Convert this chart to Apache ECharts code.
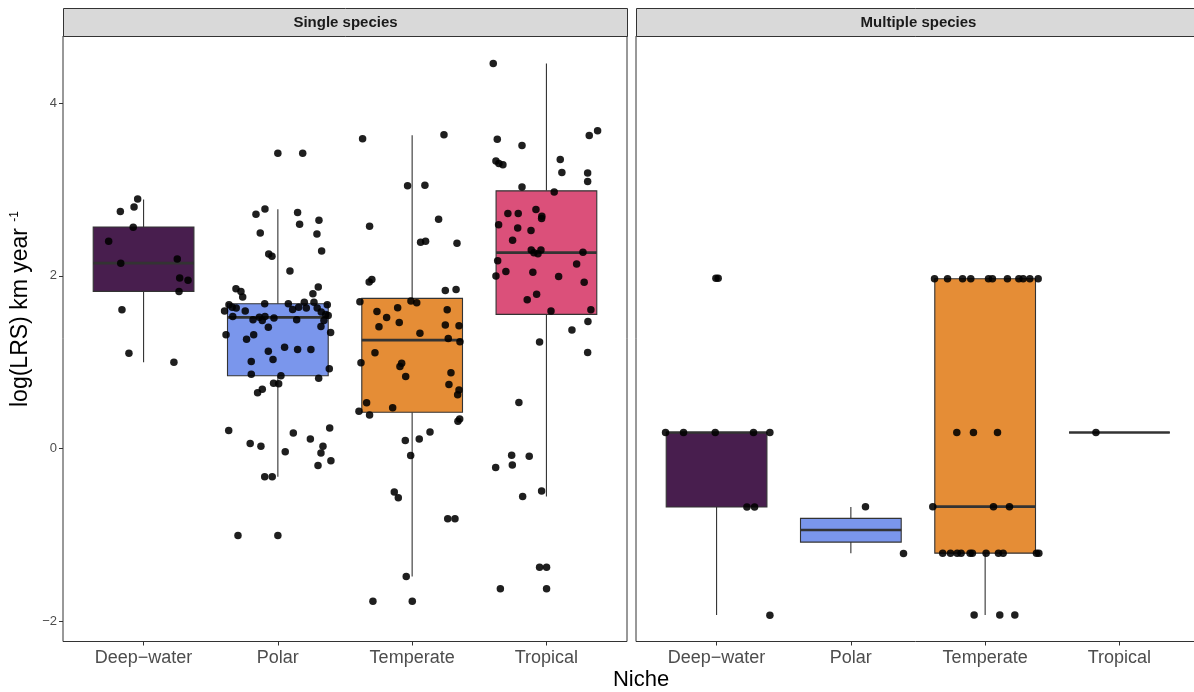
<!DOCTYPE html>
<html>
<head>
<meta charset="utf-8">
<script src="https://cdn.jsdelivr.net/npm/echarts@6/dist/echarts.min.js"></script>
<style>
html,body{margin:0;padding:0;background:#fff;}
#chart{width:1194px;height:692px;}
</style>
</head>
<body>
<div id="chart"></div>
<script>
// ---------- data ----------
const categories = ['Deep\u2212water', 'Polar', 'Temperate', 'Tropical'];
const panelTitles = ['Single species', 'Multiple species'];
const yTickValues = [-2, 0, 2, 4];
const yTickLabels = ['\u22122', '0', '2', '4'];
const xTitle = 'Niche';
const yTitle = 'log(LRS) km year {sup|-1}';

// box stats: [category position, lower whisker, Q1, median, Q3, upper whisker]
const singleBoxes = [
  [1, 1.00, 1.82, 2.148, 2.566, 2.885],
  [2, -0.325, 0.843, 1.519, 1.678, 2.771],
  [3, -1.48, 0.421, 1.256, 1.739, 3.629],
  [4, -0.553, 1.554, 2.269, 2.984, 4.46]
];
const multipleBoxes = [
  [1, -1.925, -0.676, 0.186, 0.186, 0.186],
  [2, -1.21, -1.082, -0.943, -0.808, -0.676],
  [3, -1.925, -1.21, -0.672, 1.967, 1.967],
  [4, 0.186, 0.186, 0.186, 0.186, 0.186]
];

// jittered observations: [jitter offset from category centre, value]
const singleDeepWater = [
  [-0.044, 2.891], [-0.071, 2.798], [-0.173, 2.744], [-0.077, 2.562], [-0.26, 2.40],
  [-0.17, 2.145], [0.251, 2.195], [0.269, 1.975], [0.331, 1.948], [0.264, 1.82],
  [-0.161, 1.608], [-0.109, 1.105], [0.226, 1.0]
];
const singlePolar = [
  [0.0, 3.42], [0.185, 3.42], [-0.096, 2.775], [-0.163, 2.713], [0.147, 2.733],
  [0.162, 2.597], [0.306, 2.643], [-0.131, 2.496], [0.291, 2.485], [0.326, 2.288],
  [-0.068, 2.253], [-0.044, 2.226], [0.09, 2.056], [-0.312, 1.851], [-0.275, 1.82],
  [-0.262, 1.754], [0.301, 1.87], [0.261, 1.793], [-0.364, 1.666], [-0.397, 1.592],
  [-0.34, 1.638], [-0.31, 1.627], [-0.243, 1.592], [-0.098, 1.678], [0.078, 1.678],
  [0.11, 1.612], [0.155, 1.638], [0.197, 1.696], [0.212, 1.627], [0.269, 1.696],
  [0.293, 1.627], [0.368, 1.666], [0.323, 1.581], [0.356, 1.554], [0.375, 1.542],
  [0.343, 1.484], [-0.336, 1.53], [-0.185, 1.492], [-0.138, 1.522], [-0.116, 1.484],
  [-0.096, 1.53], [-0.029, 1.511], [0.14, 1.492], [-0.071, 1.406], [0.321, 1.414],
  [0.393, 1.345], [-0.386, 1.318], [-0.18, 1.318], [-0.233, 1.267], [0.05, 1.175],
  [0.147, 1.148], [0.246, 1.148], [-0.071, 1.128], [-0.036, 1.032], [-0.198, 1.009],
  [0.383, 0.924], [-0.198, 0.862], [0.023, 0.843], [0.304, 0.815], [-0.032, 0.757],
  [0.006, 0.75], [-0.116, 0.688], [-0.151, 0.646], [-0.366, 0.209], [0.115, 0.182],
  [0.242, 0.112], [0.386, 0.24], [-0.206, 0.058], [-0.126, 0.027], [0.055, -0.035],
  [0.336, 0.027], [0.321, -0.05], [0.395, -0.139], [0.299, -0.194], [-0.098, -0.325],
  [-0.042, -0.325], [-0.297, -1.005], [0.0, -1.005]
];
const singleTemperate = [
  [-0.369, 3.587], [0.237, 3.633], [-0.034, 3.042], [0.095, 3.049], [-0.317, 2.574],
  [0.197, 2.655], [0.063, 2.388], [0.1, 2.40], [0.334, 2.377], [-0.32, 1.928],
  [-0.30, 1.959], [0.247, 1.832], [0.327, 1.843], [-0.389, 1.701], [-0.009, 1.708],
  [0.034, 1.689], [-0.262, 1.588], [-0.108, 1.631], [0.261, 1.608], [-0.19, 1.519],
  [-0.096, 1.461], [-0.247, 1.411], [0.247, 1.43], [0.349, 1.422], [0.058, 1.337],
  [0.269, 1.275], [0.356, 1.237], [-0.277, 1.109], [-0.381, 0.994], [-0.078, 0.989],
  [-0.091, 0.951], [-0.048, 0.835], [0.289, 0.877], [0.274, 0.742], [0.349, 0.68],
  [0.339, 0.623], [-0.339, 0.53], [-0.145, 0.472], [-0.396, 0.433], [-0.317, 0.39],
  [0.354, 0.344], [0.341, 0.317], [0.133, 0.193], [-0.051, 0.093], [0.053, 0.112],
  [-0.011, -0.081], [-0.133, -0.502], [-0.103, -0.568], [0.265, -0.812], [0.319, -0.812],
  [-0.044, -1.48], [-0.292, -1.766], [0.001, -1.766]
];
const singleTropical = [
  [-0.396, 4.46], [-0.366, 3.583], [-0.182, 3.51], [0.319, 3.626], [0.381, 3.679],
  [-0.376, 3.331], [-0.354, 3.301], [-0.324, 3.285], [0.103, 3.347], [0.115, 3.196],
  [0.307, 3.192], [0.307, 3.092], [-0.182, 3.03], [0.058, 2.972], [-0.287, 2.721],
  [-0.21, 2.721], [-0.078, 2.767], [-0.034, 2.69], [-0.036, 2.663], [-0.356, 2.593],
  [-0.214, 2.554], [-0.115, 2.524], [-0.252, 2.412], [-0.113, 2.30], [-0.093, 2.269],
  [-0.063, 2.257], [-0.041, 2.30], [0.272, 2.272], [-0.363, 2.176], [-0.302, 2.052],
  [-0.101, 2.041], [0.225, 2.137], [-0.376, 1.998], [0.091, 1.994], [0.281, 1.925],
  [-0.143, 1.724], [-0.073, 1.786], [0.034, 1.592], [0.331, 1.608], [0.309, 1.472],
  [0.19, 1.372], [-0.051, 1.233], [0.307, 1.113], [-0.205, 0.533], [-0.259, -0.077],
  [-0.128, -0.089], [-0.378, -0.22], [-0.254, -0.189], [-0.177, -0.553], [-0.036, -0.49],
  [-0.051, -1.372], [0.001, -1.372], [-0.343, -1.623], [0.001, -1.623]
];
const multipleDeepWater = [
  [-0.005, 1.971], [0.012, 1.971], [-0.38, 0.186], [-0.246, 0.186], [-0.01, 0.186],
  [0.275, 0.186], [0.397, 0.186], [0.226, -0.676], [0.283, -0.676], [0.397, -1.93]
];
const multiplePolar = [[0.109, -0.673], [0.392, -1.214]];
const multipleTemperate = [
  [-0.377, 1.967], [-0.28, 1.967], [-0.168, 1.967], [-0.107, 1.967], [0.025, 1.967],
  [0.054, 1.967], [0.166, 1.967], [0.251, 1.967], [0.283, 1.967], [0.333, 1.967],
  [0.395, 1.967],
  [-0.211, 0.186], [-0.087, 0.186], [0.092, 0.186],
  [-0.39, -0.672], [0.062, -0.672], [0.181, -0.672],
  [-0.316, -1.21], [-0.258, -1.21], [-0.208, -1.21], [-0.179, -1.21], [-0.112, -1.21],
  [-0.095, -1.21], [0.007, -1.21], [0.099, -1.21], [0.134, -1.21], [0.382, -1.21],
  [0.40, -1.21],
  [-0.082, -1.925], [0.109, -1.925], [0.221, -1.925]
];
const multipleTropical = [[-0.175, 0.186]];

// ---------- styling ----------
const nicheColors = ['#481E4E', '#7A96EC', '#E58D36', '#DB507A'];
const inkColor = '#333333';
const tickLabelColor = '#4d4d4d';
const fontFamily = '"Liberation Sans", Arial, Helvetica, sans-serif';

function toPoints(groups) {
  const out = [];
  groups.forEach((g, i) => g.forEach(p => out.push([i + 1 + p[0], p[1]])));
  return out;
}
const singlePoints = toPoints([singleDeepWater, singlePolar, singleTemperate, singleTropical]);
const multiplePoints = toPoints([multipleDeepWater, multiplePolar, multipleTemperate, multipleTropical]);

const halfBox = 0.375;
function renderBox(params, api) {
  const x = api.value(0);
  const lo = api.value(1), q1 = api.value(2), med = api.value(3), q3 = api.value(4), hi = api.value(5);
  const tl = api.coord([x - halfBox, q3]);
  const br = api.coord([x + halfBox, q1]);
  const cHi = api.coord([x, hi]), cQ3 = api.coord([x, q3]);
  const cQ1 = api.coord([x, q1]), cLo = api.coord([x, lo]);
  const mL = api.coord([x - halfBox, med]), mR = api.coord([x + halfBox, med]);
  const fill = nicheColors[Math.round(x) - 1];
  return {
    type: 'group',
    children: [
      { type: 'line', shape: { x1: cHi[0], y1: cHi[1], x2: cQ3[0], y2: cQ3[1] }, style: { stroke: inkColor, lineWidth: 1.1 } },
      { type: 'line', shape: { x1: cLo[0], y1: cLo[1], x2: cQ1[0], y2: cQ1[1] }, style: { stroke: inkColor, lineWidth: 1.1 } },
      { type: 'rect', shape: { x: tl[0], y: tl[1], width: br[0] - tl[0], height: br[1] - tl[1] }, style: { fill: fill, stroke: inkColor, lineWidth: 1.1 } },
      { type: 'line', shape: { x1: mL[0], y1: mL[1], x2: mR[0], y2: mR[1] }, style: { stroke: inkColor, lineWidth: 2.6 } }
    ]
  };
}

const gridTop = 36, gridHeight = 605.5, gridWidth = 564;
const gridLefts = [63, 636];

function makeXAxis(gi) {
  return {
    type: 'value', gridIndex: gi, min: 0.4, max: 4.6,
    splitLine: { show: false },
    axisLine: { show: false, onZero: false },
    axisTick: { show: true, length: 4, customValues: [1, 2, 3, 4], lineStyle: { color: inkColor, width: 1 } },
    axisLabel: {
      show: true, customValues: [1, 2, 3, 4], margin: 8,
      formatter: v => categories[Math.round(v) - 1],
      color: tickLabelColor, fontSize: 18, fontFamily: fontFamily
    }
  };
}
function makeYAxis(gi) {
  return {
    type: 'value', gridIndex: gi, min: -2.233, max: 4.777,
    splitLine: { show: false },
    axisLine: { show: false, onZero: false },
    axisTick: { show: gi === 0, length: 4, customValues: yTickValues, lineStyle: { color: inkColor, width: 1 } },
    axisLabel: {
      show: gi === 0, customValues: yTickValues, margin: 6,
      formatter: v => yTickLabels[yTickValues.indexOf(Math.round(v))],
      color: tickLabelColor, fontSize: 13, fontFamily: fontFamily
    }
  };
}

const chart = echarts.init(document.getElementById('chart'), null, { renderer: 'canvas' });
const option = {
  animation: false,
  backgroundColor: '#ffffff',
  grid: gridLefts.map(l => ({
    left: l, top: gridTop, width: gridWidth, height: gridHeight,
    containLabel: false, outerBoundsMode: 'none',
    show: true, borderColor: inkColor, borderWidth: 1, backgroundColor: '#ffffff'
  })),
  xAxis: [makeXAxis(0), makeXAxis(1)],
  yAxis: [makeYAxis(0), makeYAxis(1)],
  series: [
    { type: 'custom', xAxisIndex: 0, yAxisIndex: 0, renderItem: renderBox, data: singleBoxes, encode: { x: 0, y: [1, 2, 3, 4, 5] }, z: 2, silent: true },
    { type: 'custom', xAxisIndex: 1, yAxisIndex: 1, renderItem: renderBox, data: multipleBoxes, encode: { x: 0, y: [1, 2, 3, 4, 5] }, z: 2, silent: true },
    { type: 'scatter', xAxisIndex: 0, yAxisIndex: 0, data: singlePoints, symbol: 'circle', symbolSize: 7.5, itemStyle: { color: '#000', opacity: 0.88 }, z: 3, silent: true },
    { type: 'scatter', xAxisIndex: 1, yAxisIndex: 1, data: multiplePoints, symbol: 'circle', symbolSize: 7.5, itemStyle: { color: '#000', opacity: 0.88 }, z: 3, silent: true }
  ],
  graphic: [
    ...gridLefts.map((l, i) => ({
      type: 'group', left: l, top: 8,
      children: [
        { type: 'rect', shape: { x: 0, y: 0, width: gridWidth, height: 28 }, style: { fill: '#d9d9d9', stroke: inkColor, lineWidth: 1 } },
        { type: 'text', x: gridWidth / 2, y: 14, style: { text: panelTitles[i], fill: '#1a1a1a', font: 'bold 15px ' + fontFamily, align: 'center', verticalAlign: 'middle' } }
      ]
    })),
    {
      type: 'text', x: 641, y: 680,
      style: { text: xTitle, fill: '#000', font: '22px ' + fontFamily, align: 'center', verticalAlign: 'middle' }
    },
    {
      type: 'text', x: 21, y: 309, rotation: Math.PI / 2,
      style: {
        text: yTitle, fill: '#000', font: '23px ' + fontFamily, align: 'center', verticalAlign: 'middle',
        rich: { sup: { fontSize: 12, fontFamily: fontFamily, verticalAlign: 'top', padding: [0, 0, 12, 0], fill: '#000' } }
      }
    }
  ]
};
chart.setOption(option);
</script>
</body>
</html>
